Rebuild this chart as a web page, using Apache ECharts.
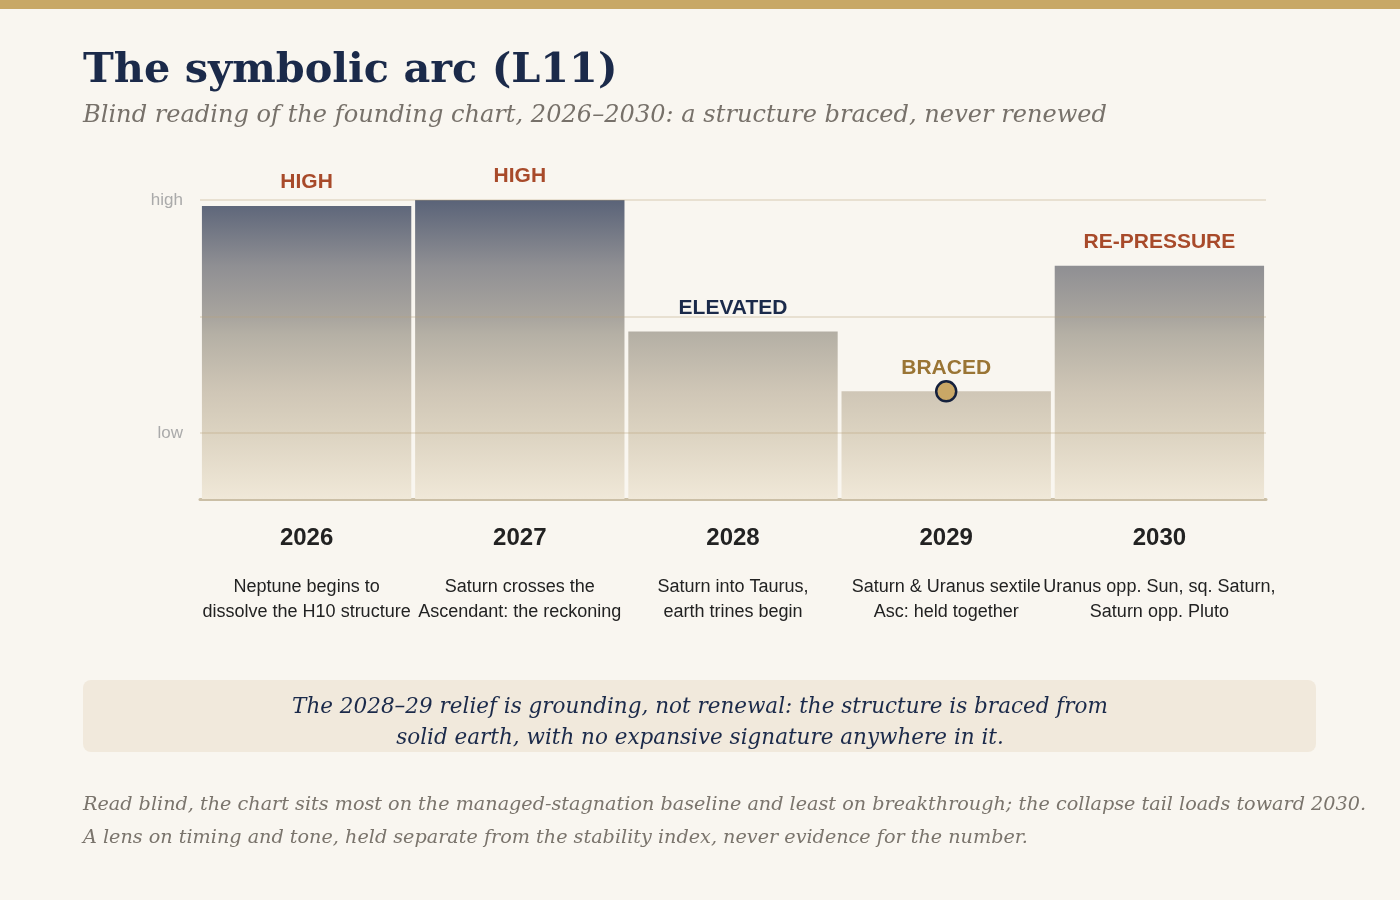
<!DOCTYPE html>
<html>
<head>
<meta charset="utf-8">
<script src="https://cdn.jsdelivr.net/npm/echarts@6/dist/echarts.min.js"></script>
<style>
html,body{margin:0;padding:0;background:#f9f6f0;}
#chart{width:1400px;height:900px;}
</style>
</head>
<body>
<div id="chart"></div>
<script>
// ---- data ----
const years = ['2026', '2027', '2028', '2029', '2030'];
const descriptions = [
  ['Neptune begins to', 'dissolve the H10 structure'],
  ['Saturn crosses the', 'Ascendant: the reckoning'],
  ['Saturn into Taurus,', 'earth trines begin'],
  ['Saturn & Uranus sextile', 'Asc: held together'],
  ['Uranus opp. Sun, sq. Saturn,', 'Saturn opp. Pluto']
];
const pressure = [98, 100, 56, 36, 78];
const stateLabels = ['HIGH', 'HIGH', 'ELEVATED', 'BRACED', 'RE-PRESSURE'];
const stateColors = ['#a84a2a', '#a84a2a', '#1b2a4a', '#9a7535', '#a84a2a'];
const yTickValues = [22, 61, 100];
const yTickNames = {22: 'low', 61: '', 100: 'high'};
const markerIndex = 3;

const titleText = 'The symbolic arc (L11)';
const subtitleText = 'Blind reading of the founding chart, 2026\u20132030: a structure braced, never renewed';
const calloutLines = [
  'The 2028\u201329 relief is grounding, not renewal: the structure is braced from',
  'solid earth, with no expansive signature anywhere in it.'
];
const footerLines = [
  'Read blind, the chart sits most on the managed-stagnation baseline and least on breakthrough; the collapse tail loads toward 2030.',
  'A lens on timing and tone, held separate from the stability index, never evidence for the number.'
];

// ---- chart ----
const chart = echarts.init(document.getElementById('chart'), null, {renderer: 'canvas'});
const gridTop = 200, gridBottomY = 499;
const barGradient = new echarts.graphic.LinearGradient(0, gridTop, 0, gridBottomY, [
  {offset: 0, color: '#5a6378'},
  {offset: 0.22, color: '#8f8f93'},
  {offset: 0.40, color: '#aaa69f'},
  {offset: 0.45, color: '#b5b0a5'},
  {offset: 0.64, color: '#cfc6b6'},
  {offset: 0.78, color: '#dcd3c1'},
  {offset: 1, color: '#f0e8d8'}
], true);

const serif = '"DejaVu Serif", serif';
const sans = '"Liberation Sans", Arial, sans-serif';

const option = {
  backgroundColor: '#f9f6f0',
  animation: false,
  grid: {left: 200, right: 134, top: gridTop, bottom: 900 - gridBottomY, containLabel: false},
  xAxis: {
    type: 'category',
    data: years,
    axisLine: {show: true, lineStyle: {color: '#cbbfa6', width: 3}},
    axisTick: {show: false},
    splitLine: {show: false},
    axisLabel: {
      margin: 24,
      interval: 0,
      formatter: function (v, i) {
        const d = descriptions[i];
        return '{y|' + v + '}\n{s| }\n{d|' + d[0] + '}\n{d|' + d[1] + '}';
      },
      rich: {
        y: {fontFamily: sans, fontSize: 24, fontWeight: 'bold', color: '#222222', lineHeight: 30},
        s: {fontSize: 10, lineHeight: 22},
        d: {fontFamily: sans, fontSize: 18, color: '#222222', lineHeight: 25}
      }
    }
  },
  yAxis: {
    type: 'value',
    min: 0,
    max: 100,
    axisLine: {show: false},
    axisTick: {show: false},
    splitLine: {show: false},
    axisLabel: {
      customValues: yTickValues,
      margin: 17,
      fontFamily: sans,
      fontSize: 17,
      color: '#aaaaaa',
      verticalAlign: 'middle',
      padding: [4, 0, 0, 0],
      formatter: function (v) { return yTickNames[v] || ''; }
    }
  },
  series: [
    {
      type: 'bar',
      data: pressure.map(function (v, i) {
        return {
          value: v,
          label: {show: true, formatter: stateLabels[i], color: stateColors[i]}
        };
      }),
      barCategoryGap: '1.8%',
      itemStyle: {color: barGradient},
      label: {
        show: true,
        position: 'top',
        distance: 13,
        fontFamily: sans,
        fontSize: 21,
        fontWeight: 'bold'
      },
      markLine: {
        silent: true,
        symbol: 'none',
        label: {show: false},
        lineStyle: {type: 'solid', color: 'rgba(185,160,120,0.35)', width: 1.5},
        data: yTickValues.map(function (v) { return {yAxis: v}; }),
        z: 3
      },
      z: 2
    },
    {
      type: 'scatter',
      data: years.map(function (y, i) { return i === markerIndex ? pressure[i] : '-'; }),
      symbol: 'circle',
      symbolSize: 20,
      itemStyle: {color: '#c9a766', borderColor: '#15213d', borderWidth: 2.5, opacity: 1},
      z: 5,
      silent: true
    }
  ],
  graphic: [
    {type: 'rect', shape: {x: 0, y: 0, width: 1400, height: 9}, style: {fill: '#c8a866'}},
    {type: 'text', style: {text: titleText, x: 83, y: 71, font: 'bold 41.4px ' + serif, fill: '#1b2a4a', textVerticalAlign: 'middle'}},
    {type: 'text', style: {text: subtitleText, x: 83, y: 116, font: 'italic 24.1px ' + serif, fill: '#77716a', textVerticalAlign: 'middle'}},
    {type: 'rect', shape: {x: 83, y: 680, width: 1233, height: 72, r: 8}, style: {fill: '#f1e9dc'}},
    {type: 'text', style: {text: calloutLines[0], x: 700, y: 707, font: 'italic 21.5px ' + serif, fill: '#1b2a4a', textAlign: 'center', textVerticalAlign: 'middle'}},
    {type: 'text', style: {text: calloutLines[1], x: 700, y: 738, font: 'italic 21.5px ' + serif, fill: '#1b2a4a', textAlign: 'center', textVerticalAlign: 'middle'}},
    {type: 'text', style: {text: footerLines[0], x: 83, y: 805, font: 'italic 19.2px ' + serif, fill: '#7a746c', textVerticalAlign: 'middle'}},
    {type: 'text', style: {text: footerLines[1], x: 83, y: 838, font: 'italic 19.2px ' + serif, fill: '#7a746c', textVerticalAlign: 'middle'}}
  ]
};
chart.setOption(option);
</script>
</body>
</html>
